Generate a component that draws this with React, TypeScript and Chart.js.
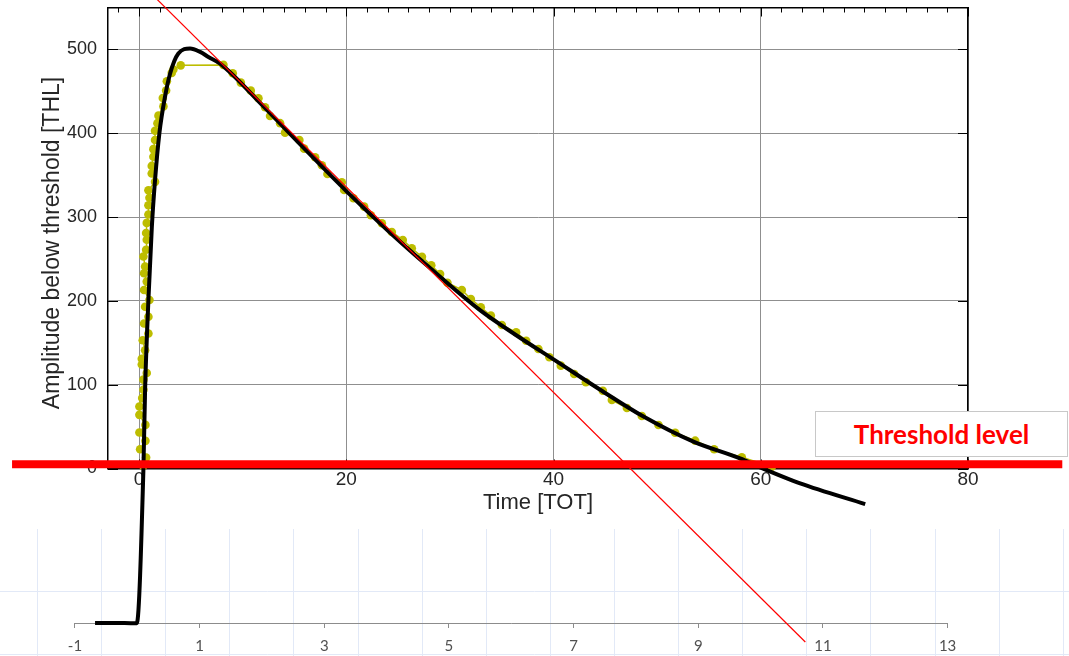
import React, { useEffect, useRef } from 'react';
import { Chart, registerables } from 'chart.js';

Chart.register(...registerables);

// ---- Measured threshold-scan points (Time [TOT] vs Amplitude below threshold [THL])
const measuredX = [
  0.4, 0.68, 0.1, 0.61, 0.03, 0.61, 0.03, 0.03, 0.3, 0.42,
  0.42, 0.74, 0.26, 0.26, 0.58, 0.35, 0.9, 0.48, 0.9, 0.58,
  1.0, 0.48, 0.74, 0.48, 0.58, 0.42, 0.68, 0.74, 0.68, 0.74,
  0.9, 0.9, 1.0, 0.9, 1.54, 1.22, 1.22, 1.38, 1.38, 1.54,
  1.54, 1.77, 1.87, 2.35, 2.29, 2.61, 2.68, 3.15, 3.31, 4.02,
  8.14, 9.04, 9.82, 10.78, 11.52, 12.16, 12.64, 13.61, 14.09, 15.47,
  15.93, 16.99, 17.64, 18.18, 19.57, 19.79, 20.69, 21.72, 22.37, 23.43,
  24.39, 25.45, 26.32, 27.3, 28.2, 29.05, 29.76, 31.15, 32.02, 32.98,
  33.95, 35.01, 36.39, 37.36, 38.54, 39.6, 40.7, 41.99, 43.12, 44.76,
  45.63, 47.08, 48.52, 50.13, 51.74, 53.67, 55.5, 58.17, 61.07,
];
const measuredY = [
  3, 13, 23, 33, 43, 52, 64, 74, 84, 94,
  106, 114, 124, 131, 141, 153, 161, 173, 181, 193,
  201, 213, 223, 233, 241, 253, 261, 273, 281, 293,
  303, 314, 323, 332, 342, 352, 361, 372, 381, 392,
  403, 412, 421, 432, 442, 451, 462, 472, 476, 481,
  481.5, 471.6, 460.4, 450.8, 441.8, 431, 420.6, 412, 400.7, 392,
  381.6, 371.4, 361.8, 351.4, 341.5, 332.3, 322.4, 312.4, 302.1, 292.6,
  282.2, 272.7, 262.8, 252.5, 242.5, 232, 221.7, 213, 202.3, 192.4,
  182.4, 171.2, 162.5, 152.5, 142.6, 132.7, 122.7, 112.8, 102.9, 92.8,
  81.7, 72.2, 62.6, 51.9, 42.7, 33.2, 22.9, 13.4, 2.1,
];

// ---- Fitted pulse shape (black curve)
const fitX = [-4.25, -1.4, -0.22, 0.415, 0.58, 0.9, 1.23, 1.54, 1.96, 2.51, 2.99, 3.79, 4.92, 5.89, 6.69, 7.82, 12, 16, 20, 24, 28, 33, 36.4, 40.15, 44.5, 48.68, 53.5, 58.0, 59.94, 63.8, 70.08];
const fitY = [-184.4, -184.4, -184.6, -2, 94, 201, 288, 344, 400, 444, 471, 495, 501, 497, 491, 483, 432, 381, 331, 284, 240, 188, 159, 129, 94, 62, 32, 12, 1.4, -17.7, -42.4];

// ---- Tangent (thin red) and threshold level (thick red)
const tangentX = [0, 64.3];
const tangentY = [581, -207];
const thresholdX = [-12.26, 89.1];
const thresholdY = [5.1, 5.1];

// ---- Ticks
const mainXTicks = [0, 20, 40, 60, 80];
const mainYTicks = [0, 100, 200, 300, 400, 500];
const topMinorTicks = [
  -2, 0, 2, 4, 6, 8, 10, 12, 14, 16, 18, 20, 22, 24, 26, 28, 30, 32, 34, 36, 38, 40,
  42, 44, 46, 48, 50, 52, 54, 56, 58, 60, 62, 64, 66, 68, 70, 72, 74, 76, 78, 80,
];
const excelTicks = [-1, 1, 3, 5, 7, 9, 11, 13];
const excelGridRows = [0, 1];
const excelGridCols = [0, 1, 2, 3, 4, 5, 6, 7, 8, 9, 10, 11, 12, 13, 14, 15, 16];
const excelAxisAt = 0.5;

const xTitle = 'Time [TOT]';
const yTitle = 'Amplitude below threshold [THL]';
const boxLabel = 'Threshold level';

const W = 1069;
const H = 656;
const dotColor = '#bdbd00';
const gridBlue = '#e2e9f7';
const matlabFont = '"Liberation Sans", Arial, sans-serif';

export default function App() {
  const bgRef = useRef<HTMLCanvasElement>(null);
  const fgRef = useRef<HTMLCanvasElement>(null);

  useEffect(() => {
    document.body.style.margin = '0';
    const toPts = (xs: number[], ys: number[]) => xs.map((x, i) => ({ x, y: ys[i] }));
    const fixTicks = (vals: number[]) => (s: any) => {
      s.ticks = vals.map((v) => ({ value: v }));
    };
    const noPad = (s: any) => {
      s.paddingTop = 0;
      s.paddingBottom = 0;
      s.paddingLeft = 0;
      s.paddingRight = 0;
    };

    const excelAxisLine = {
      id: 'excelAxisLine',
      afterDraw(chart: any) {
        const ex = chart.scales.ex;
        const ey = chart.scales.ey;
        const ctx = chart.ctx;
        const y = Math.round(ey.getPixelForValue(excelAxisAt)) + 0.5;
        ctx.save();
        ctx.strokeStyle = '#8c8c8c';
        ctx.lineWidth = 1;
        ctx.beginPath();
        ctx.moveTo(ex.getPixelForValue(excelTicks[0]), y);
        ctx.lineTo(ex.getPixelForValue(excelTicks[excelTicks.length - 1]), y);
        ctx.stroke();
        ctx.restore();
      },
    };

    const bg = new Chart(bgRef.current as HTMLCanvasElement, {
      type: 'scatter',
      data: { datasets: [] },
      options: {
        responsive: false,
        animation: false,
        devicePixelRatio: 1,
        layout: { padding: { top: 529, left: 0, right: 0, bottom: 0 } },
        plugins: { legend: { display: false }, tooltip: { enabled: false } },
        scales: {
          ey: {
            type: 'linear', axis: 'y', position: 'left', min: -0.016, max: 1.97,
            afterBuildTicks: fixTicks(excelGridRows),
            ticks: { display: false },
            grid: { color: gridBlue, drawTicks: false, lineWidth: 1 },
            border: { display: false },
            afterFit: (s: any) => { s.width = 0; noPad(s); },
          },
          gx: {
            type: 'linear', axis: 'x', position: 'top', min: -0.585, max: 16.09,
            afterBuildTicks: fixTicks(excelGridCols),
            ticks: { display: false },
            grid: { color: gridBlue, drawTicks: false, lineWidth: 1 },
            border: { display: false },
            afterFit: (s: any) => { s.height = 0; noPad(s); },
          },
          ex: {
            type: 'linear', axis: 'x', position: { ey: excelAxisAt } as any, min: -2.2033, max: 14.948,
            afterBuildTicks: fixTicks(excelTicks),
            ticks: { font: { family: 'Lato, "Open Sans", sans-serif', size: 15 }, color: '#505050', padding: 9, maxRotation: 0, autoSkip: false },
            grid: { drawOnChartArea: false, tickLength: 5, color: '#8c8c8c', lineWidth: 1 },
            border: { display: false },
            afterFit: (s: any) => { noPad(s); },
          },
        } as any,
      },
      plugins: [excelAxisLine],
    });

    const yTitlePlugin = {
      id: 'yTitle',
      afterDraw(chart: any) {
        const a = chart.chartArea;
        const ctx = chart.ctx;
        ctx.save();
        ctx.translate(a.left - 55.5, (a.top + a.bottom) / 2 + 5);
        ctx.rotate(-Math.PI / 2);
        ctx.font = '23px ' + matlabFont;
        ctx.fillStyle = '#262626';
        ctx.textAlign = 'center';
        ctx.textBaseline = 'middle';
        ctx.fillText(yTitle, 0, 0);
        ctx.restore();
      },
    };

    // MATLAB-style inward tick marks on all four sides of the box
    const innerTicks = {
      id: 'innerTicks',
      beforeDatasetsDraw(chart: any) {
        const { x, y } = chart.scales;
        const a = chart.chartArea;
        const ctx = chart.ctx;
        const al = (p: number) => Math.round(p) + 0.5;
        ctx.save();
        ctx.strokeStyle = '#000';
        ctx.lineWidth = 1;
        ctx.beginPath();
        for (const v of topMinorTicks) {
          const px = al(x.getPixelForValue(v));
          ctx.moveTo(px, a.top);
          ctx.lineTo(px, a.top + 5);
        }
        for (const v of mainXTicks) {
          const px = al(x.getPixelForValue(v));
          ctx.moveTo(px, a.bottom);
          ctx.lineTo(px, a.bottom - 9);
          ctx.moveTo(px, a.top);
          ctx.lineTo(px, a.top + 9);
        }
        for (const v of mainYTicks) {
          const py = al(y.getPixelForValue(v));
          ctx.moveTo(a.left, py);
          ctx.lineTo(a.left + 10, py);
          ctx.moveTo(a.right, py);
          ctx.lineTo(a.right - 10, py);
        }
        ctx.stroke();
        ctx.restore();
      },
    };

    const fg = new Chart(fgRef.current as HTMLCanvasElement, {
      type: 'scatter',
      data: {
        datasets: [
          { label: 'Threshold', data: toPts(thresholdX, thresholdY), showLine: true, borderColor: '#ff0000', borderWidth: 8, pointRadius: 0, clip: false as any, borderCapStyle: 'butt' },
          { label: 'Tangent', data: toPts(tangentX, tangentY), showLine: true, borderColor: '#ff0000', borderWidth: 1.2, pointRadius: 0, clip: false as any },
          { label: 'Fit', data: toPts(fitX, fitY), showLine: true, borderColor: '#000000', borderWidth: 4, pointRadius: 0, cubicInterpolationMode: 'monotone', capBezierPoints: false, clip: false as any, borderJoinStyle: 'round' },
          { label: 'Measured', data: toPts(measuredX, measuredY), showLine: true, borderColor: dotColor, borderWidth: 1.5, pointRadius: 4.3, pointBackgroundColor: dotColor, pointBorderWidth: 0, clip: false as any },
        ] as any,
      },
      options: {
        responsive: false,
        animation: false,
        devicePixelRatio: 1,
        layout: { padding: 0 },
        plugins: { legend: { display: false }, tooltip: { enabled: false } },
        scales: {
          x: {
            type: 'linear', position: 'bottom', min: -3, max: 80,
            afterBuildTicks: fixTicks(mainXTicks),
            ticks: { font: { family: matlabFont, size: 19 }, color: '#262626', padding: 0, maxRotation: 0, autoSkip: false },
            grid: { color: '#8f8f8f', lineWidth: 1, drawTicks: false },
            border: { color: '#000', width: 1.5 },
            title: { display: true, text: xTitle, font: { family: matlabFont, size: 22 }, color: '#262626', padding: { top: 0, bottom: 140.3 } },
            afterFit: (s: any) => { s.height = 187.5; noPad(s); },
          },
          xt: {
            type: 'linear', axis: 'x', position: 'top', min: -3, max: 80,
            afterBuildTicks: fixTicks(topMinorTicks),
            ticks: { display: false },
            grid: { drawOnChartArea: false, drawTicks: false },
            border: { color: '#000', width: 1.5 },
            afterFit: (s: any) => { s.height = 7.5; noPad(s); },
          },
          y: {
            type: 'linear', position: 'left', min: 0, max: 550,
            afterBuildTicks: fixTicks(mainYTicks),
            ticks: { font: { family: matlabFont, size: 18 }, color: '#262626', padding: 11 },
            grid: { color: '#8f8f8f', lineWidth: 1, drawTicks: false },
            border: { color: '#000', width: 1.5 },
            afterFit: (s: any) => { s.width = 108; noPad(s); },
          },
          yr: {
            type: 'linear', axis: 'y', position: 'right', min: 0, max: 550,
            afterBuildTicks: fixTicks(mainYTicks),
            ticks: { display: false },
            grid: { drawOnChartArea: false, drawTicks: false },
            border: { color: '#000', width: 1.5 },
            afterFit: (s: any) => { s.width = 101; noPad(s); },
          },
        } as any,
      },
      plugins: [innerTicks, yTitlePlugin],
    });

    return () => {
      bg.destroy();
      fg.destroy();
    };
  }, []);

  return (
    <div style={{ position: 'absolute', left: 0, top: 0, width: W, height: H, background: '#ffffff', overflow: 'hidden' }}>
      <canvas ref={bgRef} width={W} height={H} style={{ position: 'absolute', left: 0, top: 0, width: W, height: H }} />
      <canvas ref={fgRef} width={W} height={H} style={{ position: 'absolute', left: 0, top: 0, width: W, height: H }} />
      <div
        style={{
          position: 'absolute', left: 815, top: 411, width: 253, height: 46, boxSizing: 'border-box',
          border: '1px solid #c8c8c8', background: '#ffffff', display: 'flex', alignItems: 'center',
          justifyContent: 'center', color: '#ff0000', fontFamily: 'Lato, "Open Sans", sans-serif',
          fontWeight: 700, fontSize: 26,
        }}
      >
        {boxLabel}
      </div>
    </div>
  );
}
